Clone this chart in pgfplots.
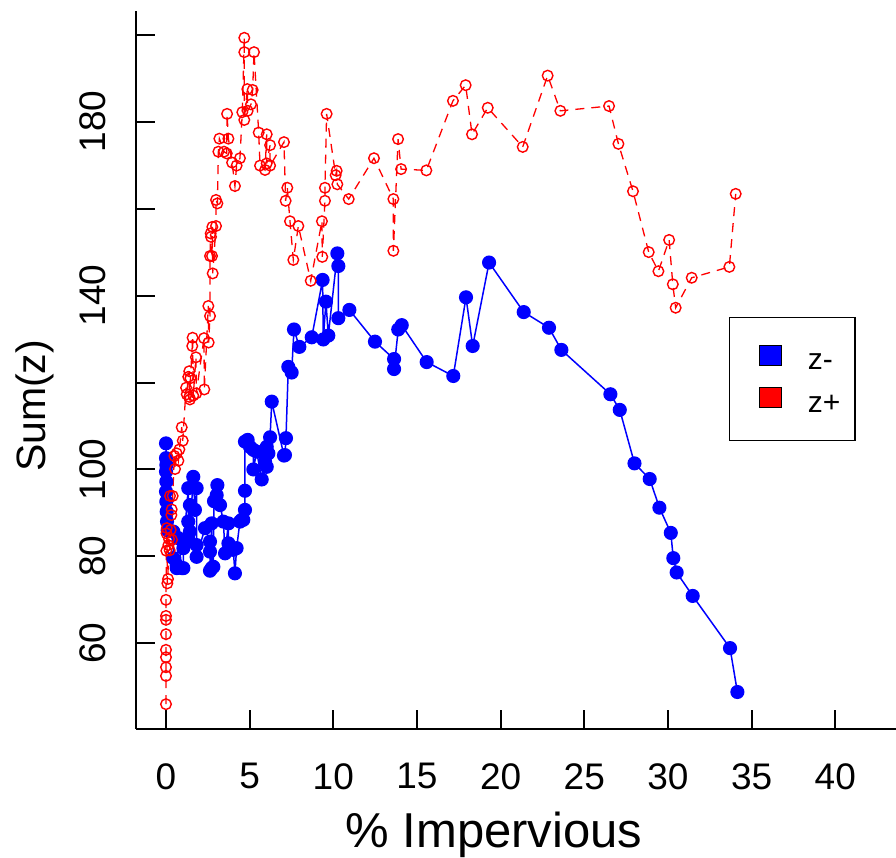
\documentclass[border=0pt]{standalone}
\usepackage{fontspec}
\setmainfont{Liberation Sans}
\usepackage{pgfplots}
\pgfplotsset{compat=1.18}
\begin{document}
\begin{tikzpicture}
\path[use as bounding box] (0pt,0pt) rectangle (896pt,858pt);
\begin{axis}[
  at={(136pt,129pt)}, anchor=south west,
  width=760pt, height=718pt, scale only axis,
  xmin=-1.793, xmax=43.63, ymin=40.29, ymax=205.47,
  axis x line*=bottom, axis y line*=left,
  axis line style={line width=2pt, -},
  tick align=inside, major tick length=19pt,
  tick style={line width=2pt, black},
  xtick={0,5,...,40}, ytick={60,80,...,200},
  yticklabels={60,80,100,{},140,{},180,{}},
  /pgf/number format/assume math mode=true,
  tick label style={font=\fontsize{37}{44}\selectfont},
  xticklabel style={anchor=north, inner sep=0pt},
  xticklabel shift=34pt,
  yticklabel style={rotate=90, anchor=south, inner sep=0pt},
  yticklabel shift=30pt,
  xlabel={\% Impervious}, ylabel={Sum(z)},
  xlabel style={font=\fontsize{49}{56}\selectfont, at={(axis description cs:0.471,-0.1476)}, anchor=center},
  ylabel style={font=\fontsize{41}{48}\selectfont, at={(axis description cs:-0.133,0.45)}, anchor=center},
  legend style={at={(0.780,0.574)}, anchor=north west, draw=black, line width=1.5pt,
    inner xsep=0pt, inner ysep=27pt, row sep=16pt,
    nodes={inner sep=0pt, text width=47pt, align=left},
    font=\fontsize{30}{36}\selectfont},
  /tikz/every odd column/.append style={column sep=26pt},
]
\addplot[blue, line width=1.5pt, mark=*, mark size=6.3pt,
  mark options={solid, fill=blue, draw=blue},
  legend image code/.code={\path (-29pt,0pt); \draw[fill=blue, draw=black, line width=1pt, solid] (0pt,-3pt) rectangle (22pt,17pt);}]
table {
0.00 106.0
0.00 102.6
0.02 101.0
0.00 99.5
0.02 97.2
0.00 94.9
0.02 92.6
0.04 90.3
0.06 88.0
0.10 86.0
0.44 85.7
0.44 79.6
0.64 78.0
0.64 77.3
0.74 84.2
0.94 77.3
1.04 77.3
1.04 81.9
1.33 95.7
1.33 88.0
1.33 84.2
1.43 91.8
1.43 85.7
1.63 98.3
1.73 90.7
1.83 95.7
1.83 82.6
1.83 79.9
2.33 86.5
2.63 83.4
2.63 81.1
2.63 76.7
2.73 87.6
2.73 77.3
2.83 77.6
2.87 92.7
3.03 94.1
3.07 96.4
3.23 91.8
3.43 88.0
3.53 80.7
3.73 87.6
3.73 83.0
4.02 81.5
4.12 76.1
4.22 81.9
4.42 88.0
4.52 88.4
4.62 88.4
4.72 90.7
4.72 95.1
4.72 106.4
4.88 106.8
5.02 105.2
5.22 104.5
5.22 100.0
5.42 104.1
5.72 97.7
5.92 101.8
6.02 105.2
6.02 100.6
6.12 103.7
6.22 107.4
6.32 115.6
7.05 103.2
7.11 103.3
7.17 107.2
7.31 123.6
7.51 122.3
7.65 132.2
7.97 128.2
8.71 130.4
9.36 143.6
9.40 129.9
9.56 138.6
9.70 130.8
10.24 149.7
10.30 146.8
10.30 134.8
10.96 136.7
12.49 129.4
13.63 125.4
13.63 123.1
13.88 132.2
14.09 133.2
15.58 124.7
17.17 121.5
17.93 139.6
18.33 128.4
19.31 147.6
21.38 136.2
22.89 132.6
23.63 127.5
26.56 117.3
27.12 113.7
28.00 101.4
28.91 97.8
29.49 91.2
30.17 85.4
30.32 79.6
30.52 76.3
31.48 70.9
33.71 58.9
34.15 48.8
};
\addlegendentry{z-}
\addplot[red, line width=1.3pt, dash pattern=on 9pt off 7pt, mark=o, mark size=5.3pt,
  mark options={solid, line width=1.4pt},
  legend image code/.code={\path (-29pt,0pt); \draw[fill=red, draw=black, line width=1pt, solid] (0pt,-3pt) rectangle (22pt,17pt);}]
table {
0 46.0
0 52.5
0 54.5
0 56.8
0 58.5
0 62.1
0 65.4
0 66.3
0 70.0
0.02 81.3
0.03 85.3
0.05 86.5
0.08 73.8
0.12 74.8
0.14 82.6
0.18 84.0
0.22 81.4
0.24 93.9
0.28 86.1
0.32 89.5
0.34 90.8
0.36 83.8
0.40 93.9
0.50 103.1
0.54 100.1
0.64 103.7
0.74 102.0
0.80 104.6
0.94 109.7
1.00 106.6
1.20 118.8
1.24 117.3
1.33 121.3
1.39 122.6
1.39 116.7
1.43 116.1
1.46 121.0
1.57 128.4
1.59 130.3
1.63 117.0
1.79 125.8
1.81 117.5
2.27 130.2
2.29 118.4
2.53 137.6
2.55 129.2
2.63 135.3
2.63 149.1
2.67 154.3
2.69 153.5
2.75 149.1
2.77 155.8
2.79 145.1
2.99 156.0
2.99 162.0
3.07 161.2
3.13 173.1
3.19 176.1
3.47 173.1
3.63 172.7
3.65 181.8
3.73 176.1
3.95 170.6
4.12 165.2
4.22 169.9
4.42 171.6
4.56 182.2
4.68 199.3
4.68 196.0
4.68 180.4
4.86 187.5
4.88 182.5
5.08 184.0
5.18 187.3
5.26 196.0
5.54 177.5
5.62 169.9
5.92 168.9
6.02 177.1
6.02 170.4
6.22 174.6
6.22 169.9
7.05 175.3
7.15 161.8
7.25 164.8
7.41 157.1
7.61 148.2
7.91 156.0
8.65 143.4
9.32 157.1
9.34 148.9
9.50 161.8
9.50 164.8
9.60 181.8
10.14 167.7
10.20 168.7
10.24 165.6
10.92 162.2
12.43 171.6
13.59 162.2
13.59 150.3
13.87 176.0
14.05 169.1
15.56 168.8
17.15 184.8
17.91 188.4
18.29 177.1
19.23 183.2
21.32 174.2
22.81 190.6
23.57 182.5
26.48 183.6
27.04 174.9
27.91 164.0
28.85 150.0
29.43 145.6
30.07 152.8
30.29 142.6
30.46 137.2
31.42 144.1
33.67 146.6
34.05 163.4
};
\addlegendentry{z+}
\end{axis}
\end{tikzpicture}
\end{document}
